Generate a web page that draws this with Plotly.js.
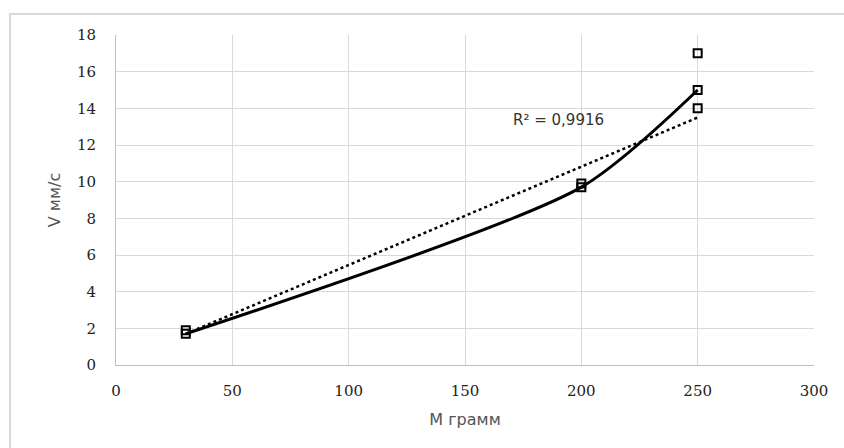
<!DOCTYPE html>
<html>
<head>
<meta charset="utf-8">
<script src="https://cdn.plot.ly/plotly-3.0.1.min.js"></script>
<style>html,body{margin:0;padding:0;background:#fff;}#chart{width:844px;height:448px;}</style>
</head>
<body>
<div id="chart"></div>
<script>
// Measured points
const massPoints = [30, 30, 200, 200, 250, 250, 250];
const speedPoints = [1.7, 1.9, 9.7, 9.9, 15, 14, 17];
// Smoothed curve series
const massCurve = [30, 200, 250];
const speedCurve = [1.7, 9.7, 15];
// Linear trendline (as drawn)
const massTrend = [30, 250];
const speedTrend = [1.7, 13.5];
const trendLabel = 'R² = 0,9916';

const xTicks = [0, 50, 100, 150, 200, 250, 300];
const yTicks = [0, 2, 4, 6, 8, 10, 12, 14, 16, 18];

const traces = [
  {x: massTrend, y: speedTrend, mode: 'lines', type: 'scatter',
   line: {color: '#000', width: 2.5, dash: 'dot'}, hoverinfo: 'skip'},
  {x: massCurve, y: speedCurve, mode: 'lines', type: 'scatter',
   line: {color: '#000', width: 3, shape: 'spline', smoothing: 0.7}},
  {x: massPoints, y: speedPoints, mode: 'markers', type: 'scatter',
   marker: {symbol: 'square-open', size: 8, color: '#000', line: {width: 2, color: '#000'}}}
];

const tickFont = {family: 'DejaVu Serif', size: 15, color: '#222'};
const titleFont = {family: 'DejaVu Sans', size: 16, color: '#555'};

const layout = {
  width: 844, height: 448,
  margin: {l: 116, r: 30, t: 35, b: 83},
  showlegend: false,
  paper_bgcolor: '#fff', plot_bgcolor: '#fff',
  xaxis: {
    range: [0, 300], tickvals: xTicks, ticktext: xTicks.map(String),
    showgrid: true, gridcolor: '#d9d9d9', gridwidth: 1,
    zeroline: false, showline: true, linecolor: '#bfbfbf', linewidth: 1,
    ticks: '', tickfont: tickFont, ticklabelstandoff: 12,
    title: {text: 'М грамм', font: titleFont, standoff: 14},
    fixedrange: true
  },
  yaxis: {
    range: [0, 18], tickvals: yTicks, ticktext: yTicks.map(String),
    showgrid: true, gridcolor: '#d9d9d9', gridwidth: 1,
    zeroline: false, showline: true, linecolor: '#bfbfbf', linewidth: 1,
    ticks: '', tickfont: tickFont, ticklabelstandoff: 16,
    title: {text: 'V мм/с', font: titleFont, standoff: 12},
    fixedrange: true
  },
  annotations: [
    {x: 190, y: 13.35, xref: 'x', yref: 'y', text: trendLabel, showarrow: false,
     font: {family: 'DejaVu Sans', size: 15, color: '#333'}, xanchor: 'center', yanchor: 'middle'}
  ],
  shapes: [
    {type: 'rect', xref: 'paper', yref: 'paper', x0: -0.1519, x1: 1.3, y0: -0.5, y1: 1.0636,
     line: {color: '#d9d9d9', width: 2}, fillcolor: 'rgba(0,0,0,0)', layer: 'below'}
  ]
};

Plotly.newPlot('chart', traces, layout, {displayModeBar: false, staticPlot: true});
</script>
</body>
</html>
